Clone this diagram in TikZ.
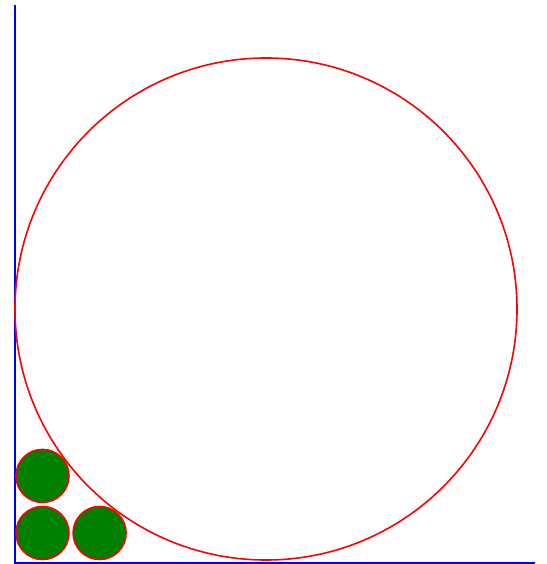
\documentclass[tikz,border=0pt]{standalone}
\usepackage{tikz}
\usetikzlibrary{positioning}

\begin{document}
\begin{tikzpicture}[
  x=1pt, y=-1pt,
  axis/.style={draw=blue, line width=1.4pt},
  bigcirc/.style={circle, draw=red, line width=1.6pt, inner sep=0pt, minimum size=502pt},
  ball/.style={circle, draw=red, fill=green!50!black, line width=1.6pt, inner sep=0pt, minimum size=53pt}
]
\useasboundingbox (0,0) rectangle (546,564);
\coordinate (origin) at (15,563);
\coordinate (ytop) at (15,5);
\coordinate (xend) at (535,563);
\draw[axis] (ytop) -- (origin) -- (xend);
\node[bigcirc] (outer) at (266,309) {};
\node[ball] (b1) at (42.5,533) {};
\node[ball, right=2.5pt of b1] (b2) {};
\node[ball, above=2.5pt of b1] (b3) {};
\end{tikzpicture}
\end{document}
